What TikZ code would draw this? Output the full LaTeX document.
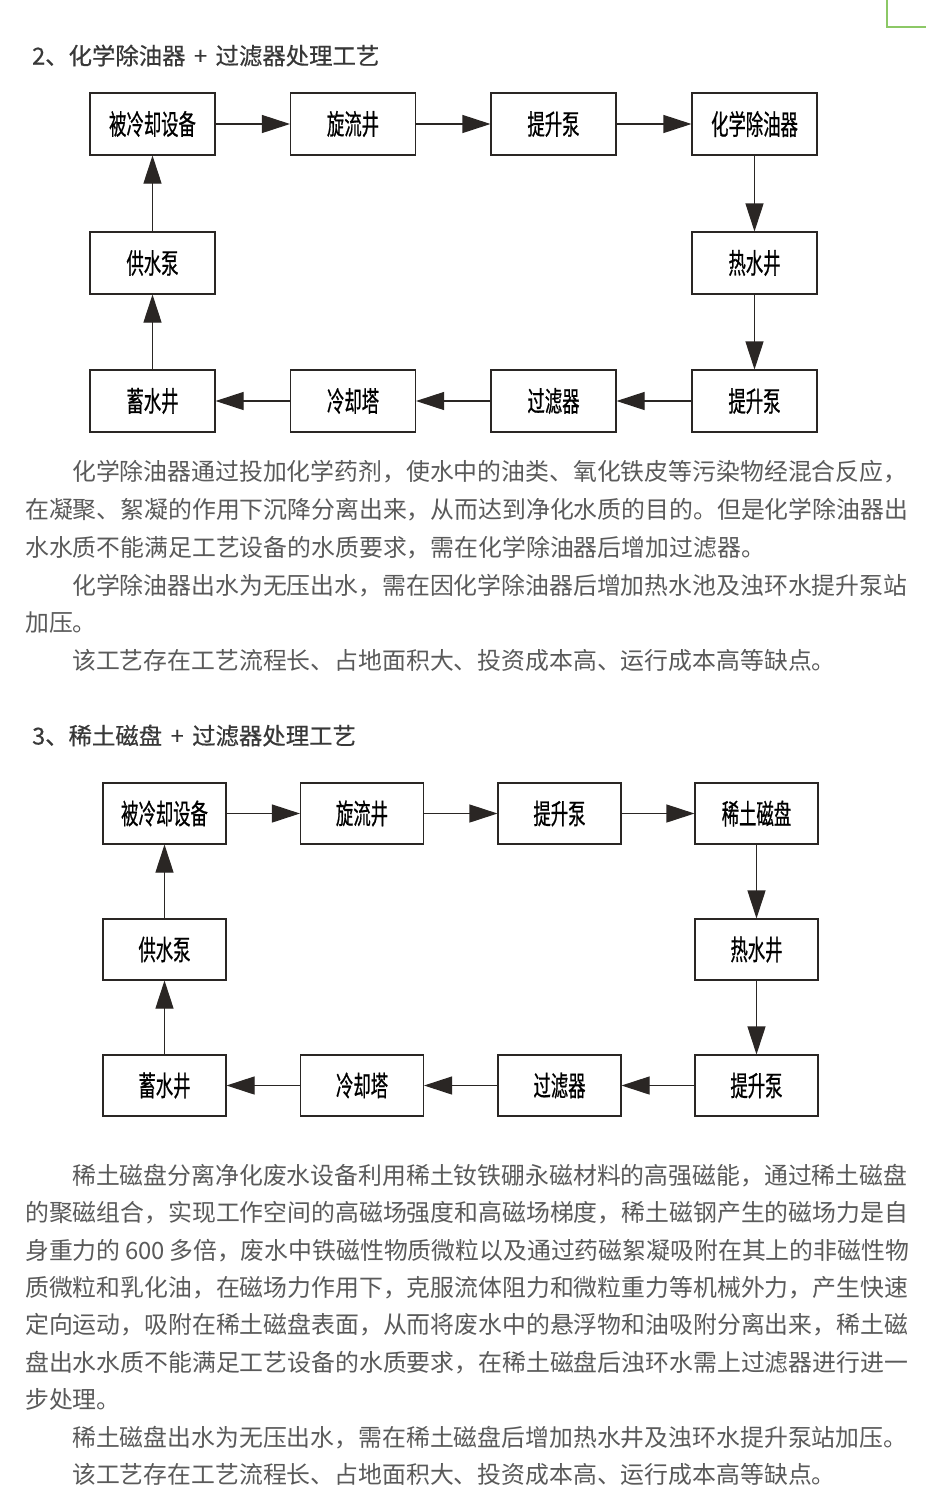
\documentclass[tikz,border=0pt]{standalone}
\usepackage{fontspec}
\usetikzlibrary{arrows.meta}
\newfontfamily\cjk{Noto Sans CJK SC}
\newfontfamily\headcjk[FakeBold=0.5]{Noto Sans CJK SC}
\newfontfamily\boxcjk[FakeStretch=0.62,FakeBold=0.6]{Noto Sans CJK SC}
\definecolor{linec}{HTML}{2A2624}
\definecolor{bodyc}{HTML}{5A5A5A}
\definecolor{headc}{HTML}{383838}
\definecolor{greenc}{HTML}{8CC866}
\begin{document}
\begin{tikzpicture}[x=1pt,y=-1pt,
  flowbox/.style={draw=linec, line width=1.1pt, minimum width=125pt, minimum height=62pt, inner sep=0pt,
    font=\boxcjk\fontsize{28pt}{28pt}\selectfont, text=black},
  flowboxb/.style={flowbox, minimum width=123pt, minimum height=61pt},
  flow/.style={draw=linec, line width=1.1pt, -{Triangle[length=28pt,width=18pt]}},
  body/.style={anchor=base west, inner sep=0pt, font=\cjk\fontsize{23.86pt}{23.86pt}\selectfont, text=bodyc},
  heading/.style={anchor=base west, inner sep=0pt, font=\headcjk\fontsize{23.4pt}{23.4pt}\selectfont, text=headc}]
\useasboundingbox (0,0) rectangle (926,1505);
\fill[white] (0,0) rectangle (926,1505);
% corner mark
\draw[greenc, line width=1.2pt] (887,0) -- (887,27) -- (926,27);

% ---------- section 2 ----------
\node[heading] (h1) at (32,64.5) {2、化学除油器\hspace{8.5pt}+\hspace{8.5pt}过滤器处理工艺};

\node[flowbox] (a1) at (152.5,124) {被冷却设备};
\node[flowbox] (a2) at (353,124) {旋流井};
\node[flowbox] (a3) at (553.5,124) {提升泵};
\node[flowbox] (a4) at (754.5,124) {化学除油器};
\node[flowbox] (a5) at (754.5,263) {热水井};
\node[flowbox] (a6) at (754.5,401) {提升泵};
\node[flowbox] (a7) at (553.5,401) {过滤器};
\node[flowbox] (a8) at (353,401) {冷却塔};
\node[flowbox] (a9) at (152.5,401) {蓄水井};
\node[flowbox] (a10) at (152.5,263) {供水泵};

\draw[flow] (a1) -- (a2);
\draw[flow] (a2) -- (a3);
\draw[flow] (a3) -- (a4);
\draw[flow] (a4) -- (a5);
\draw[flow] (a5) -- (a6);
\draw[flow] (a6) -- (a7);
\draw[flow] (a7) -- (a8);
\draw[flow] (a8) -- (a9);
\draw[flow] (a9) -- (a10);
\draw[flow] (a10) -- (a1);

\node[body] (p1) at (72,480.5) {化学除油器通过投加化学药剂，使水中的油类、氧化铁皮等污染物经混合反应，};
\node[body] (p2) at (25,518.5) {在凝聚、絮凝的作用下沉降分离出来，从而达到净化水质的目的。但是化学除油器出};
\node[body] (p3) at (25,556.5) {水水质不能满足工艺设备的水质要求，需在化学除油器后增加过滤器。};
\node[body] (p4) at (72,594) {化学除油器出水为无压出水，需在因化学除油器后增加热水池及浊环水提升泵站};
\node[body] (p5) at (25,631.5) {加压。};
\node[body] (p6) at (72,669) {该工艺存在工艺流程长、占地面积大、投资成本高、运行成本高等缺点。};

% ---------- section 3 ----------
\node[heading] (h2) at (32,744.5) {3、稀土磁盘\hspace{8.5pt}+\hspace{8.5pt}过滤器处理工艺};

\node[flowboxb] (b1) at (164.5,813.5) {被冷却设备};
\node[flowboxb] (b2) at (362,813.5) {旋流井};
\node[flowboxb] (b3) at (559.5,813.5) {提升泵};
\node[flowboxb] (b4) at (756.5,813.5) {稀土磁盘};
\node[flowboxb] (b5) at (756.5,949.5) {热水井};
\node[flowboxb] (b6) at (756.5,1085.5) {提升泵};
\node[flowboxb] (b7) at (559.5,1085.5) {过滤器};
\node[flowboxb] (b8) at (362,1085.5) {冷却塔};
\node[flowboxb] (b9) at (164.5,1085.5) {蓄水井};
\node[flowboxb] (b10) at (164.5,949.5) {供水泵};

\draw[flow] (b1) -- (b2);
\draw[flow] (b2) -- (b3);
\draw[flow] (b3) -- (b4);
\draw[flow] (b4) -- (b5);
\draw[flow] (b5) -- (b6);
\draw[flow] (b6) -- (b7);
\draw[flow] (b7) -- (b8);
\draw[flow] (b8) -- (b9);
\draw[flow] (b9) -- (b10);
\draw[flow] (b10) -- (b1);

\node[body] (q1) at (72,1184.5) {稀土磁盘分离净化废水设备利用稀土钕铁硼永磁材料的高强磁能，通过稀土磁盘};
\node[body] (q2) at (25,1221.5) {的聚磁组合，实现工作空间的高磁场强度和高磁场梯度，稀土磁钢产生的磁场力是自};
\node[body] (q3) at (25,1259) {身重力的\hspace{4.5pt}600\hspace{4.5pt}多倍，废水中铁磁性物质微粒以及通过药磁絮凝吸附在其上的非磁性物};
\node[body] (q4) at (25,1296.5) {质微粒和乳化油，在磁场力作用下，克服流体阻力和微粒重力等机械外力，产生快速};
\node[body] (q5) at (25,1333.5) {定向运动，吸附在稀土磁盘表面，从而将废水中的悬浮物和油吸附分离出来，稀土磁};
\node[body] (q6) at (25,1371) {盘出水水质不能满足工艺设备的水质要求，在稀土磁盘后浊环水需上过滤器进行进一};
\node[body] (q7) at (25,1408.5) {步处理。};
\node[body] (q8) at (72,1446) {稀土磁盘出水为无压出水，需在稀土磁盘后增加热水井及浊环水提升泵站加压。};
\node[body] (q9) at (72,1483) {该工艺存在工艺流程长、占地面积大、投资成本高、运行成本高等缺点。};
\end{tikzpicture}
\end{document}
